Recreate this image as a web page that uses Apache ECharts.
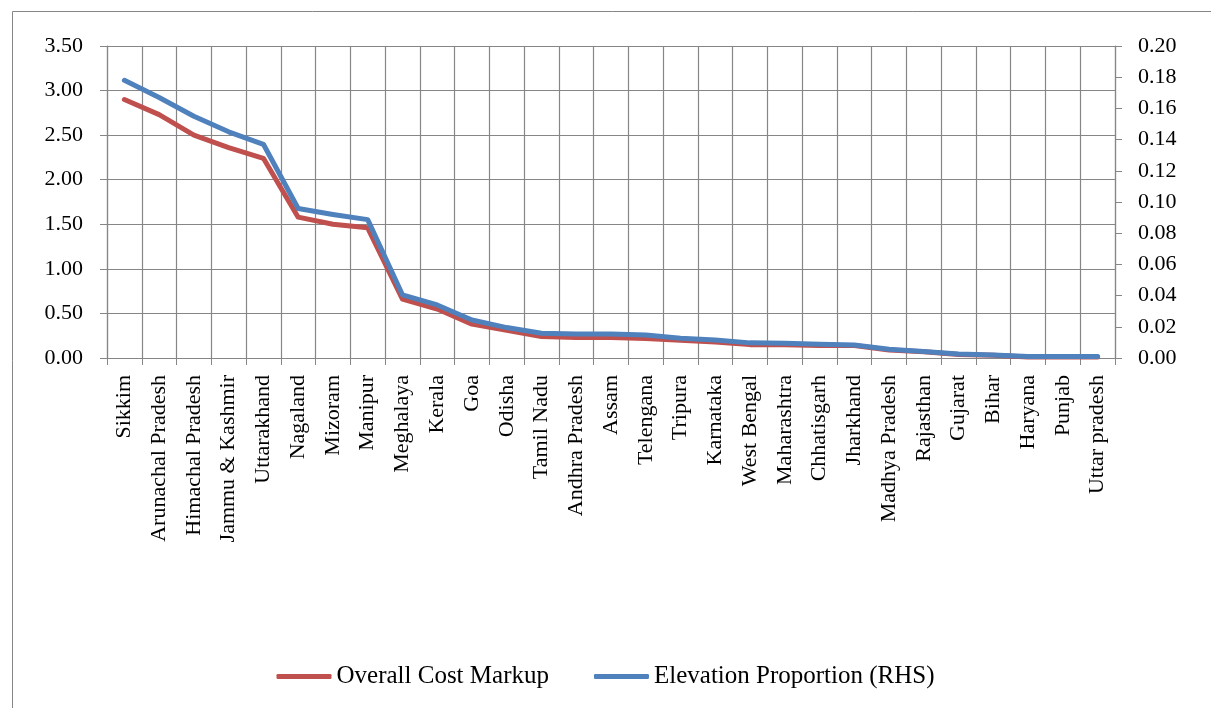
<!DOCTYPE html>
<html>
<head>
<meta charset="utf-8">
<script src="https://cdn.jsdelivr.net/npm/echarts@6/dist/echarts.min.js"></script>
<style>
  html, body { margin: 0; padding: 0; background: #fff; }
  #chart { width: 1211px; height: 708px; }
</style>
</head>
<body>
<div id="chart"></div>
<script>
const states = ['Sikkim', 'Arunachal Pradesh', 'Himachal Pradesh', 'Jammu & Kashmir', 'Uttarakhand',
  'Nagaland', 'Mizoram', 'Manipur', 'Meghalaya', 'Kerala', 'Goa', 'Odisha', 'Tamil Nadu',
  'Andhra Pradesh', 'Assam', 'Telengana', 'Tripura', 'Karnataka', 'West Bengal', 'Maharashtra',
  'Chhatisgarh', 'Jharkhand', 'Madhya Pradesh', 'Rajasthan', 'Gujarat', 'Bihar', 'Haryana',
  'Punjab', 'Uttar pradesh'];

const costMarkup = [2.90, 2.73, 2.50, 2.36, 2.24, 1.58, 1.50, 1.46, 0.66, 0.55, 0.38, 0.31, 0.24,
  0.23, 0.23, 0.22, 0.20, 0.18, 0.15, 0.15, 0.14, 0.14, 0.09, 0.07, 0.04, 0.03, 0.01, 0.01, 0.01];

const elevationShare = [0.178, 0.167, 0.155, 0.145, 0.137, 0.0958, 0.092, 0.0887, 0.0405, 0.034,
  0.0244, 0.0195, 0.0159, 0.0154, 0.0154, 0.0148, 0.0127, 0.0116, 0.0097, 0.0095, 0.0088, 0.0084,
  0.0056, 0.0041, 0.0026, 0.0019, 0.0009, 0.0009, 0.0009];

const seriesNames = ['Overall Cost Markup', 'Elevation Proportion (RHS)'];

const font = 'Liberation Serif';
const gridGray = '#868686';

const chart = echarts.init(document.getElementById('chart'));

chart.setOption({
  animation: false,
  textStyle: { fontFamily: font },
  graphic: [{
    type: 'rect',
    shape: { x: 12.5, y: 11.5, width: 1400, height: 900 },
    style: { fill: 'none', stroke: gridGray, lineWidth: 1 },
    silent: true
  }],
  grid: { left: 107, right: 96, top: 46, bottom: 350 },
  legend: {
    bottom: 14,
    left: 'center',
    icon: 'roundRect',
    itemWidth: 55,
    itemHeight: 5,
    itemGap: 45,
    textStyle: { fontFamily: font, fontSize: 25, color: '#000' },
    data: seriesNames
  },
  xAxis: {
    type: 'category',
    data: states,
    boundaryGap: true,
    axisLine: { lineStyle: { color: gridGray, width: 1.2 } },
    axisTick: { show: true, length: 7, lineStyle: { color: gridGray } },
    splitLine: { show: true, lineStyle: { color: gridGray, width: 1.2 } },
    axisLabel: {
      rotate: 90,
      interval: 0,
      margin: 17,
      fontFamily: font,
      fontSize: 22,
      color: '#000'
    }
  },
  yAxis: [{
    type: 'value',
    min: 0,
    max: 3.5,
    interval: 0.5,
    position: 'left',
    axisLine: { show: true, lineStyle: { color: gridGray, width: 1.2 } },
    axisTick: { show: true, length: 7, lineStyle: { color: gridGray } },
    splitLine: { show: true, lineStyle: { color: gridGray, width: 1.2 } },
    axisLabel: {
      margin: 24,
      fontFamily: font,
      fontSize: 22,
      color: '#000',
      formatter: v => v.toFixed(2)
    }
  }, {
    type: 'value',
    min: 0,
    max: 0.2,
    interval: 0.02,
    position: 'right',
    axisLine: { show: true, lineStyle: { color: gridGray, width: 1.2 } },
    axisTick: { show: true, length: 7, lineStyle: { color: gridGray } },
    splitLine: { show: false },
    axisLabel: {
      margin: 23,
      fontFamily: font,
      fontSize: 22,
      color: '#000',
      formatter: v => v.toFixed(2)
    }
  }],
  series: [{
    name: seriesNames[0],
    type: 'line',
    yAxisIndex: 0,
    data: costMarkup,
    symbol: 'none',
    color: '#C0504D',
    lineStyle: { width: 5, color: '#C0504D', cap: 'round', join: 'round' }
  }, {
    name: seriesNames[1],
    type: 'line',
    yAxisIndex: 1,
    data: elevationShare,
    symbol: 'none',
    color: '#4F81BD',
    lineStyle: { width: 5, color: '#4F81BD', cap: 'round', join: 'round' }
  }]
});
</script>
</body>
</html>
